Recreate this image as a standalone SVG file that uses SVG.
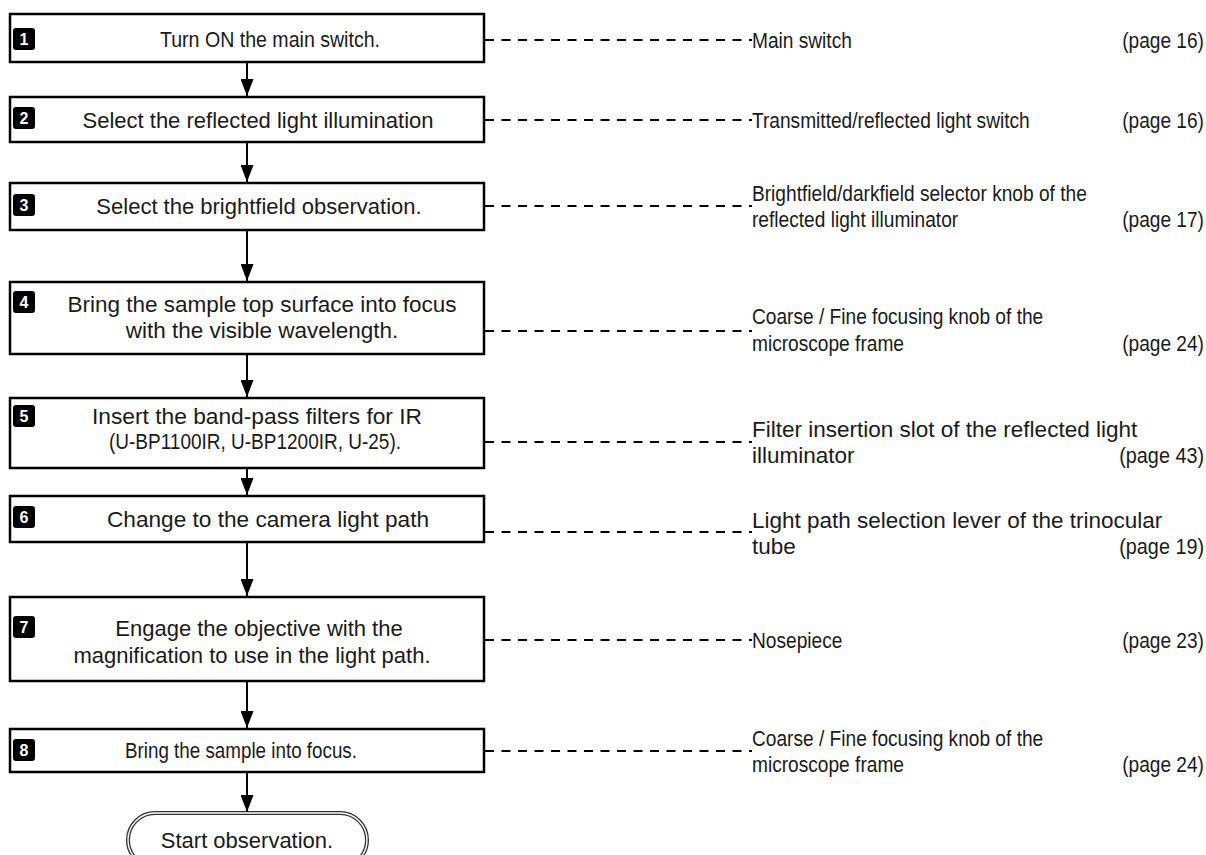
<svg xmlns="http://www.w3.org/2000/svg" width="1206" height="855" viewBox="0 0 1206 855">
<style>
.box{fill:#fff;stroke:#000;stroke-width:2.5}
.badge{fill:#000}
.num{font-family:"Liberation Sans",Arial,sans-serif;font-size:16px;font-weight:bold;fill:#fff;text-anchor:middle}
.t{font-family:"Liberation Sans",Arial,sans-serif;font-size:22px;fill:#1a1a1a;text-anchor:middle}
.r{font-family:"Liberation Sans",Arial,sans-serif;font-size:22.5px;fill:#1a1a1a}
.rw{font-family:"Liberation Sans",Arial,sans-serif;font-size:22.5px;fill:#1a1a1a}
.p{font-family:"Liberation Sans",Arial,sans-serif;font-size:22.5px;fill:#1a1a1a;text-anchor:end}
.arr{stroke:#000;stroke-width:2;fill:none}
.dash{stroke:#000;stroke-width:2;stroke-dasharray:9 7.5;fill:none}
</style>
<defs>
<marker id="ah" markerWidth="17" markerHeight="13" refX="17" refY="6.5" orient="auto" markerUnits="userSpaceOnUse">
<path d="M0,0 L17,6.5 L0,13 z" fill="#000"/>
</marker>
</defs>
<g id="step1">
<rect class="box" x="10" y="14" width="474" height="48"/>
<rect class="badge" x="13" y="28" width="22" height="22" rx="3"/>
<text class="num" x="24" y="45">1</text>
<text class="t" x="270" y="47" textLength="220" lengthAdjust="spacingAndGlyphs">Turn ON the main switch.</text>
</g>
<g id="step2">
<rect class="box" x="10" y="97" width="474" height="45"/>
<rect class="badge" x="13" y="107" width="22" height="22" rx="3"/>
<text class="num" x="24" y="124">2</text>
<text class="t" x="258" y="128">Select the reflected light illumination</text>
</g>
<g id="step3">
<rect class="box" x="10" y="183" width="474" height="47"/>
<rect class="badge" x="13" y="194" width="22" height="22" rx="3"/>
<text class="num" x="24" y="211">3</text>
<text class="t" x="259" y="214">Select the brightfield observation.</text>
</g>
<g id="step4">
<rect class="box" x="10" y="282" width="474" height="72"/>
<rect class="badge" x="13" y="291" width="22" height="22" rx="3"/>
<text class="num" x="24" y="308">4</text>
<text class="t" x="262" y="312" style="font-size:22.5px">Bring the sample top surface into focus</text>
<text class="t" x="262" y="338" style="font-size:22.5px">with the visible wavelength.</text>
</g>
<g id="step5">
<rect class="box" x="10" y="398" width="474" height="70"/>
<rect class="badge" x="13" y="405" width="22" height="22" rx="3"/>
<text class="num" x="24" y="422">5</text>
<text class="t" x="257" y="424" textLength="330" lengthAdjust="spacingAndGlyphs">Insert the band-pass filters for IR</text>
<text class="t" x="255" y="449" textLength="292" lengthAdjust="spacingAndGlyphs">(U-BP1100IR, U-BP1200IR, U-25).</text>
</g>
<g id="step6">
<rect class="box" x="10" y="496" width="474" height="46"/>
<rect class="badge" x="13" y="506" width="22" height="22" rx="3"/>
<text class="num" x="24" y="523">6</text>
<text class="t" x="268" y="527" textLength="322" lengthAdjust="spacingAndGlyphs">Change to the camera light path</text>
</g>
<g id="step7">
<rect class="box" x="10" y="597" width="474" height="84"/>
<rect class="badge" x="13" y="616" width="22" height="22" rx="3"/>
<text class="num" x="24" y="633">7</text>
<text class="t" x="259" y="636">Engage the objective with the</text>
<text class="t" x="252" y="663">magnification to use in the light path.</text>
</g>
<g id="step8">
<rect class="box" x="10" y="729" width="474" height="43"/>
<rect class="badge" x="13" y="739" width="22" height="22" rx="3"/>
<text class="num" x="24" y="756">8</text>
<text class="t" x="241" y="758" textLength="232" lengthAdjust="spacingAndGlyphs">Bring the sample into focus.</text>
</g>
<g id="end">
<rect x="128" y="813" width="239" height="54" rx="27" fill="#fff" stroke="#333" stroke-width="4"/>
<rect x="128" y="813" width="239" height="54" rx="27" fill="none" stroke="#fff" stroke-width="1.4"/>
<text class="t" x="247" y="848">Start observation.</text>
</g>
<g id="connectors">
<line class="arr" x1="247" y1="63" x2="247" y2="96" marker-end="url(#ah)"/>
<line class="arr" x1="247" y1="143" x2="247" y2="182" marker-end="url(#ah)"/>
<line class="arr" x1="247" y1="231" x2="247" y2="281" marker-end="url(#ah)"/>
<line class="arr" x1="247" y1="355" x2="247" y2="397" marker-end="url(#ah)"/>
<line class="arr" x1="247" y1="469" x2="247" y2="495" marker-end="url(#ah)"/>
<line class="arr" x1="247" y1="543" x2="247" y2="596" marker-end="url(#ah)"/>
<line class="arr" x1="247" y1="682" x2="247" y2="728" marker-end="url(#ah)"/>
<line class="arr" x1="247" y1="773" x2="247" y2="812" marker-end="url(#ah)"/>
<line class="dash" x1="485" y1="40" x2="752" y2="40"/>
<line class="dash" x1="485" y1="120" x2="752" y2="120"/>
<line class="dash" x1="485" y1="206" x2="752" y2="206"/>
<line class="dash" x1="485" y1="331" x2="752" y2="331"/>
<line class="dash" x1="485" y1="442" x2="752" y2="442"/>
<line class="dash" x1="485" y1="532" x2="752" y2="532"/>
<line class="dash" x1="485" y1="640" x2="752" y2="640"/>
<line class="dash" x1="485" y1="751" x2="752" y2="751"/>
</g>
<g id="labels">
<text class="r" transform="translate(752,48) scale(0.85,1)">Main switch</text>
<text class="p" transform="translate(1204,48) scale(0.85,1)">(page 16)</text>
<text class="r" transform="translate(752,128) scale(0.85,1)">Transmitted/reflected light switch</text>
<text class="p" transform="translate(1204,128) scale(0.85,1)">(page 16)</text>
<text class="r" transform="translate(752,201) scale(0.85,1)">Brightfield/darkfield selector knob of the</text>
<text class="r" transform="translate(752,227) scale(0.85,1)">reflected light illuminator</text>
<text class="p" transform="translate(1204,227) scale(0.85,1)">(page 17)</text>
<text class="r" transform="translate(752,324) scale(0.85,1)">Coarse / Fine focusing knob of the</text>
<text class="r" transform="translate(752,351) scale(0.85,1)">microscope frame</text>
<text class="p" transform="translate(1204,351) scale(0.85,1)">(page 24)</text>
<text class="rw" x="752" y="437">Filter insertion slot of the reflected light</text>
<text class="rw" x="752" y="463">illuminator</text>
<text class="p" transform="translate(1204,463) scale(0.88,1)">(page 43)</text>
<text class="rw" x="752" y="528">Light path selection lever of the trinocular</text>
<text class="rw" x="752" y="554">tube</text>
<text class="p" transform="translate(1204,554) scale(0.88,1)">(page 19)</text>
<text class="r" transform="translate(752,648) scale(0.85,1)">Nosepiece</text>
<text class="p" transform="translate(1204,648) scale(0.85,1)">(page 23)</text>
<text class="r" transform="translate(752,746) scale(0.85,1)">Coarse / Fine focusing knob of the</text>
<text class="r" transform="translate(752,772) scale(0.85,1)">microscope frame</text>
<text class="p" transform="translate(1204,772) scale(0.85,1)">(page 24)</text>
</g>
</svg>
